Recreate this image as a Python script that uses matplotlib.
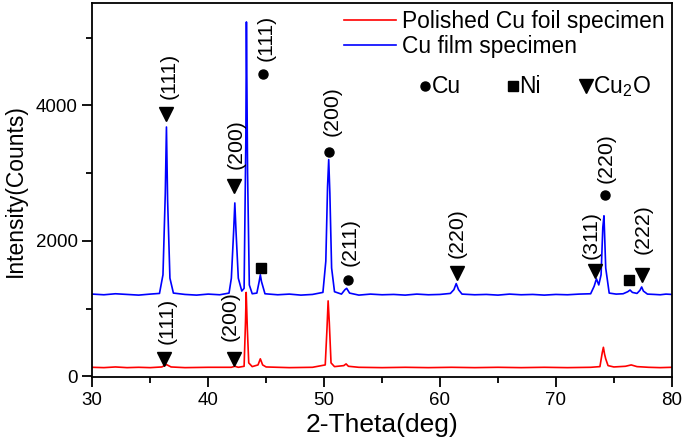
import matplotlib
matplotlib.use("Agg")
import matplotlib.pyplot as plt
from matplotlib.ticker import MultipleLocator

plt.rcParams['font.family'] = ['Liberation Sans', 'DejaVu Sans']
plt.rcParams['mathtext.fontset'] = 'custom'
plt.rcParams['mathtext.rm'] = 'Liberation Sans'
plt.rcParams['mathtext.it'] = 'Liberation Sans'

# Cu film specimen (blue), vertices
film_x = [30, 31, 32, 33, 34, 35, 35.8, 36.1, 36.3, 36.4, 36.5, 36.7, 37.0, 38, 39, 40, 41,
          41.8, 42.0, 42.2, 42.3, 42.4, 42.6, 42.9, 43.1, 43.25, 43.3, 43.4, 43.55, 43.8,
          44.2, 44.4, 44.5, 44.6, 44.9, 46, 47, 48, 49, 49.9, 50.15, 50.3, 50.4, 50.5, 50.65,
          50.9, 51.5, 51.8, 51.95, 52.2, 53, 54, 55, 56, 57, 58, 59, 60, 60.9, 61.2, 61.4,
          61.6, 61.9, 63, 64, 65, 66, 67, 68, 69, 70, 71, 72, 73.0, 73.3, 73.5, 73.7, 73.9,
          74.05, 74.15, 74.3, 74.6, 75.2, 75.8, 76.2, 76.4, 76.6, 77.0, 77.25, 77.4, 77.55,
          77.9, 78.5, 79, 79.5, 80]
film_y = [1215, 1205, 1220, 1210, 1200, 1215, 1225, 1500, 2700, 3680, 2600, 1450, 1230, 1210,
          1200, 1215, 1205, 1230, 1450, 2150, 2560, 2150, 1450, 1260, 1300, 3500, 5230, 3000,
          1350, 1220, 1230, 1400, 1500, 1400, 1220, 1205, 1215, 1200, 1210, 1240, 1700, 2800,
          3200, 2700, 1600, 1250, 1215, 1280, 1300, 1230, 1200, 1215, 1205, 1210, 1200, 1215,
          1205, 1210, 1225, 1280, 1370, 1280, 1215, 1205, 1210, 1200, 1215, 1205, 1210, 1200,
          1210, 1205, 1215, 1220, 1330, 1440, 1350, 1500, 2200, 2370, 1600, 1230, 1215, 1220,
          1250, 1275, 1240, 1225, 1270, 1320, 1260, 1215, 1210, 1205, 1215, 1210]

# Polished Cu foil specimen (red)
foil_x = [30, 31, 32, 33, 34, 35, 36.0, 36.4, 36.8, 38, 40, 42, 42.3, 42.6, 43.1, 43.22, 43.28,
          43.38, 43.5, 43.8, 44.3, 44.5, 44.7, 45, 47, 49, 50.1, 50.25, 50.35, 50.45, 50.6,
          50.9, 51.7, 51.9, 52.1, 53, 55, 57, 59, 61, 63, 65, 67, 69, 71, 73, 73.8, 74.0,
          74.1, 74.2, 74.3, 74.5, 75, 76, 76.5, 77, 78, 79, 80]
foil_y = [135, 130, 140, 130, 135, 130, 140, 175, 140, 130, 135, 135, 150, 135, 150, 800, 1240,
          700, 200, 145, 170, 260, 170, 140, 130, 135, 170, 700, 1115, 800, 200, 145, 160,
          185, 150, 135, 130, 135, 130, 135, 130, 135, 130, 135, 130, 135, 145, 350, 430,
          330, 260, 160, 140, 150, 170, 145, 135, 130, 135]

# phase markers: position and kind ('o' Cu, 's' Ni, 'v' Cu2O)
mark_x = [36.4, 42.25, 44.75, 44.55, 50.45, 52.1, 61.5, 73.36, 74.25, 76.3, 77.45, 36.15, 42.25]
mark_y = [3870, 2810, 4465, 1605, 3310, 1420, 1525, 1556, 2676, 1424, 1497, 255, 255]
mark_kind = ['v', 'v', 'o', 's', 'o', 'o', 'v', 'v', 'o', 's', 'v', 'v', 'v']

# Miller index labels
hkl_x = [36.64, 42.41, 45.0, 50.66, 52.24, 61.47, 73.08, 74.37, 77.53, 36.44, 41.9]
hkl_y = [4100, 3058, 4650, 3546, 1630, 1752, 1733, 2858, 1802, 480, 525]
hkl_text = ['(111)', '(200)', '(111)', '(200)', '(211)', '(220)', '(311)', '(220)', '(222)',
            '(111)', '(200)']

# key row for the markers
key_x = [58.7, 66.27, 72.6]
key_kind = ['o', 's', 'v']
key_text = ['Cu', 'Ni', 'Cu$_2$O']
key_y = 4283

fig = plt.figure(figsize=(6.85, 4.42), dpi=100)
ax = fig.add_axes([0.1347, 0.146, 0.846, 0.8465])

ax.plot(foil_x, foil_y, color='#ff0000', lw=1.2, label='Polished Cu foil specimen')
ax.plot(film_x, film_y, color='#0000ff', lw=1.2, label='Cu film specimen')

sizes = {'v': 10, 'o': 6.5, 's': 7.5}
for x, y, k in zip(mark_x, mark_y, mark_kind):
    ax.plot(x, y, marker=k, color='black', ms=sizes[k], ls='none')
for x, y, t in zip(hkl_x, hkl_y, hkl_text):
    ax.text(x, y, t, rotation=90, ha='center', va='bottom', fontsize=15.3)

for x, k, t in zip(key_x, key_kind, key_text):
    ax.plot(x, key_y, marker=k, color='black', ms=sizes[k], ls='none')
    ax.text(x + 0.6, key_y, t, ha='left', va='center', fontsize=16.5)

ax.set_xlim(30, 80)
ax.set_ylim(-15, 5505)
ax.xaxis.set_major_locator(MultipleLocator(10))
ax.xaxis.set_minor_locator(MultipleLocator(5))
ax.yaxis.set_major_locator(MultipleLocator(2000))
ax.yaxis.set_minor_locator(MultipleLocator(1000))
ax.tick_params(which='both', direction='out', labelsize=13.5, width=1.3, top=False, right=False)
ax.tick_params(which='major', length=7)
ax.tick_params(which='minor', length=4)
for s in ax.spines.values():
    s.set_linewidth(1.3)

ax.set_xlabel('2-Theta(deg)', fontsize=19, labelpad=3)
ax.set_ylabel('Intensity(Counts)', fontsize=16.5, labelpad=6)

ax.legend(loc='upper right', frameon=False, fontsize=16.4, handlelength=2.3,
          handletextpad=0.26, borderaxespad=0.0, borderpad=0.3, labelspacing=0.1)

fig.savefig('out.png', dpi=100)
